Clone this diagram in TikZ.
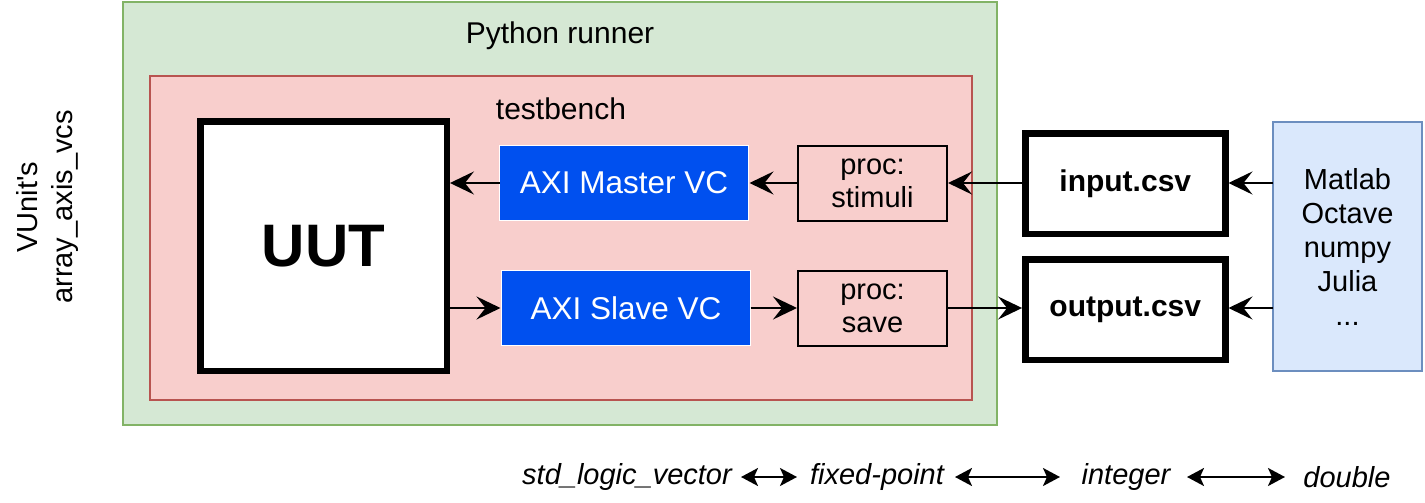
\documentclass[tikz,border=0pt]{standalone}
\usepackage{fontspec}
\setmainfont{Liberation Sans}
\newfontfamily\plainsans{Liberation Sans}[Ligatures=TeXOff]
\usetikzlibrary{arrows.meta}
\definecolor{grfill}{HTML}{D5E8D4}
\definecolor{grline}{HTML}{82B366}
\definecolor{rdfill}{HTML}{F8CECC}
\definecolor{rdline}{HTML}{B85450}
\definecolor{blfill}{HTML}{DAE8FC}
\definecolor{blline}{HTML}{6C8EBF}
\definecolor{axiblue}{HTML}{0050EF}
\tikzset{
  box/.style={draw, rectangle, anchor=north west, inner sep=0pt, outer sep=0pt, align=center},
  txt/.style={font=\fontsize{30}{34}\selectfont},
  bighead/.tip={Stealth[length=24pt,width=23pt,inset=9pt]},
  smallhead/.tip={Stealth[length=17pt,width=18pt,inset=4pt]},
  arr/.style={line width=2.2pt, -bighead, shorten >=1pt},
  thickend/.style={shorten >=3.2pt},
  darr/.style={line width=2.2pt, smallhead-smallhead}
}
\begin{document}
\begin{tikzpicture}[x=1pt,y=-1pt]
\useasboundingbox (0,0) rectangle (1425,503);
% containers
\node[box, fill=grfill, draw=grline, line width=2.5pt, minimum width=874pt, minimum height=423pt] (runner) at (123,2) {};
\node[txt] (runnerlbl) at (560,36) {Python runner};
\node[box, fill=rdfill, draw=rdline, line width=2.5pt, minimum width=822pt, minimum height=324pt] (tb) at (150,76) {};
\node[txt] (tblbl) at (561,109) {testbench};
% UUT
\node[box, fill=white, line width=6.5pt, minimum width=246.5pt, minimum height=249.5pt, font=\fontsize{60}{64}\selectfont\bfseries] (uut) at (200.25,121.25) {UUT};
% AXI VCs
\node[box, fill=axiblue, draw=white, line width=1.5pt, minimum width=249pt, minimum height=75pt, text=white, font=\fontsize{31.5}{34}\selectfont] (master) at (499.5,145.5) {AXI Master VC};
\node[box, fill=axiblue, draw=white, line width=1.5pt, minimum width=249pt, minimum height=75pt, text=white, font=\fontsize{31.5}{34}\selectfont] (slave) at (501.5,270.5) {AXI Slave VC};
% processes
\node[box, fill=rdfill, line width=2pt, minimum width=149pt, minimum height=75pt, font=\fontsize{29}{33}\selectfont] (stim) at (798,146) {proc:\\stimuli};
\node[box, fill=rdfill, line width=2pt, minimum width=149pt, minimum height=75pt, font=\fontsize{29}{33}\selectfont] (save) at (798,271) {proc:\\save};
% files
\node[box, fill=white, line width=6.5pt, minimum width=200pt, minimum height=100.5pt, font=\fontsize{30}{34}\selectfont\bfseries] (inp) at (1025.25,133.25) {input.csv};
\node[box, fill=white, line width=6.5pt, minimum width=200pt, minimum height=100.5pt, font=\fontsize{30}{34}\selectfont\bfseries] (outp) at (1025.25,259.25) {output.csv};
% tools
\node[box, fill=blfill, draw=blline, line width=2pt, minimum width=149pt, minimum height=249pt, font=\fontsize{29}{34}\selectfont] (tools) at (1273,122) {Matlab\\Octave\\numpy\\Julia\\...};
% side label
\node[rotate=90, align=center, font=\plainsans\fontsize{29}{35}\selectfont] (vunit) at (48,207) {VUnit's\\array\_axis\_vcs};
% connectors
\draw[arr] (inp.west |- 0,183) -- (stim.east |- 0,183);
\draw[arr] (stim.west |- 0,183) -- (master.east |- 0,183);
\draw[arr, thickend] (master.west |- 0,183) -- (uut.east |- 0,183);
\draw[arr] (uut.east |- 0,308) -- (slave.west |- 0,308);
\draw[arr] (slave.east |- 0,308) -- (save.west |- 0,308);
\draw[arr, thickend] (save.east |- 0,308) -- (outp.west |- 0,308);
\draw[arr, thickend] (tools.west |- 0,183) -- (inp.east |- 0,183);
\draw[arr, thickend] (tools.west |- 0,308) -- (outp.east |- 0,308);
% bottom conversion chain
\node[font=\fontsize{29}{33}\selectfont\itshape] (slv) at (627,477) {std\_logic\_vector};
\node[font=\fontsize{29}{33}\selectfont\itshape] (fxp) at (877,477) {fixed-point};
\node[font=\fontsize{29}{33}\selectfont\itshape] (int) at (1126,477) {integer};
\node[font=\fontsize{29}{33}\selectfont\itshape] (dbl) at (1347,477) {double};
\coordinate (a1) at (741,477); \coordinate (b1) at (797,477);
\coordinate (a2) at (955,477); \coordinate (b2) at (1060,477);
\coordinate (a3) at (1187,477); \coordinate (b3) at (1285,477);
\draw[darr] (a1) -- (b1);
\draw[darr] (a2) -- (b2);
\draw[darr] (a3) -- (b3);
\end{tikzpicture}
\end{document}
